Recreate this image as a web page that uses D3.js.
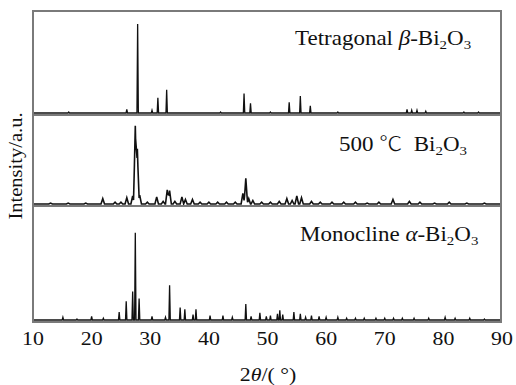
<!DOCTYPE html>
<html>
<head>
<meta charset="utf-8">
<script src="https://cdn.jsdelivr.net/npm/d3@7"></script>
<style>
  body { margin: 0; background: #fff; }
</style>
</head>
<body>
<div id="chart"></div>
<script>
// 2theta ticks
const xTicks = [10, 20, 30, 40, 50, 60, 70, 80, 90];

// peaks as [2theta, relative intensity]
const tetragonalPeaks = [
  [16.1, 1], [26.0, 4], [27.85, 100], [30.3, 3], [31.3, 17], [32.8, 26],
  [42.0, 1], [46.0, 22], [47.1, 11], [50.5, 1], [53.7, 12], [55.6, 19],
  [57.3, 8], [62.0, 1], [73.8, 4], [74.6, 3], [75.5, 3], [77.0, 2], [83.5, 1], [86.0, 1]
];
const sample500Peaks = [
  [13.0, 1], [16.0, 1], [19.0, 1], [21.9, 6], [24.0, 2], [25.0, 2], [26.0, 7], [27.0, 9],
  [27.45, 88], [27.8, 62], [28.2, 10], [29.5, 2], [31.1, 8], [32.2, 3], [32.9, 16], [33.3, 15],
  [34.2, 3], [35.4, 8], [36.0, 5], [37.2, 5], [38.5, 2], [40.0, 2], [41.5, 2], [43.0, 2],
  [44.5, 2], [45.8, 12], [46.3, 29], [46.8, 6], [47.5, 4], [49.0, 2], [50.5, 2], [52.0, 3],
  [53.3, 6], [54.2, 4], [55.0, 9], [55.8, 7], [57.5, 3], [59.0, 2], [61.0, 2], [63.0, 2],
  [65.0, 2], [67.0, 1], [69.0, 2], [71.4, 5], [74.2, 3], [76.0, 2], [78.5, 1], [81.0, 2],
  [84.0, 1], [87.0, 1]
];
const monoclinePeaks = [
  [15.1, 3], [17.5, 1], [20.0, 4], [22.0, 2], [24.7, 9], [25.9, 21], [27.0, 32],
  [27.45, 98], [28.1, 24], [30.3, 4], [32.6, 3], [33.3, 39], [35.1, 14], [35.9, 12],
  [37.3, 6], [37.8, 12], [40.2, 5], [42.4, 5], [44.0, 3], [46.3, 18], [47.2, 4],
  [48.7, 8], [49.8, 4], [50.5, 5], [51.7, 7], [52.1, 11], [52.6, 6], [54.5, 9], [55.6, 7],
  [56.5, 3], [57.5, 5], [58.8, 4], [60.0, 3], [62.0, 3], [63.5, 2], [65.0, 2], [66.5, 2],
  [68.5, 2], [70.0, 2], [71.5, 2], [73.0, 2], [75.0, 2], [77.5, 2], [80.3, 3], [82.0, 2],
  [84.5, 2], [87.0, 1]
];

const panels = [
  { peaks: tetragonalPeaks, base: 113, width: 0.12, sw: 1.3 },
  { peaks: sample500Peaks, base: 204, width: 0.3, sw: 1.6 },
  { peaks: monoclinePeaks, base: 320, width: 0.12, sw: 1.3 }
];

const W = 516, H = 385;
const frame = { left: 33, right: 501, top: 11, bottom: 322 };
const stretch = 1.15; // the source type is a bit wide

const svg = d3.select("#chart").append("svg")
  .attr("width", W).attr("height", H)
  .attr("font-family", "'Liberation Serif', 'DejaVu Serif', 'Times New Roman', serif");

const x = d3.scaleLinear().domain([10, 90]).range([33, 502]);

function profile(peaks, w) {
  const xs = [10, 90];
  peaks.forEach(p => { xs.push(p[0] - w, p[0], p[0] + w); });
  xs.sort((a, b) => a - b);
  return xs.filter(v => v >= 10 && v <= 90).map(v => {
    let m = 0;
    peaks.forEach(p => {
      const t = 1 - Math.abs(v - p[0]) / w;
      if (t > 0) m = Math.max(m, p[1] * t);
    });
    return [v, m];
  });
}

panels.forEach(p => {
  const y = d3.scaleLinear().domain([0, 100]).range([p.base, p.base - 89]);
  const line = d3.line().x(d => x(d[0])).y(d => y(d[1]));
  svg.append("path")
    .attr("d", line(profile(p.peaks, p.width)))
    .attr("fill", "none")
    .attr("stroke", "#111")
    .attr("stroke-width", p.sw);
});

// frame and panel separators
svg.append("rect")
  .attr("x", frame.left).attr("y", frame.top)
  .attr("width", frame.right - frame.left).attr("height", frame.bottom - frame.top)
  .attr("fill", "none").attr("stroke", "#7a7a7a").attr("stroke-width", 2);
[115, 206].forEach(v => {
  svg.append("line")
    .attr("x1", frame.left).attr("x2", frame.right).attr("y1", v).attr("y2", v)
    .attr("stroke", "#7a7a7a").attr("stroke-width", 2);
});

// x tick labels
svg.append("g").selectAll("text")
  .data(xTicks)
  .join("text")
  .attr("transform", d => `translate(${x(d)},345) scale(${stretch},1)`)
  .attr("text-anchor", "middle")
  .attr("font-size", 19)
  .attr("fill", "#111")
  .text(d => d);

// axis titles
const xt = svg.append("text")
  .attr("transform", `translate(268,381) scale(${stretch},1)`)
  .attr("text-anchor", "middle")
  .attr("font-size", 19)
  .attr("fill", "#111");
xt.append("tspan").text("2");
xt.append("tspan").attr("font-style", "italic").text("θ");
xt.append("tspan").text("/(\u00a0°)");

svg.append("text")
  .attr("transform", "translate(22,166) rotate(-90) scale(1.08,1)")
  .attr("text-anchor", "middle")
  .attr("font-size", 19)
  .attr("fill", "#111")
  .text("Intensity/a.u.");

// panel labels
function label(xp, yp, parts) {
  const t = svg.append("text")
    .attr("transform", `translate(${xp},${yp}) scale(${stretch},1)`)
    .attr("font-size", 20).attr("fill", "#111");
  parts.forEach(q => {
    const s = t.append("tspan").text(q.t);
    if (q.i) s.attr("font-style", "italic");
    if (q.sub) s.attr("font-size", 13).attr("dy", 4);
    if (q.up) s.attr("dy", -4);
    if (q.cjk) s.attr("font-family", "'Noto Sans CJK SC'").attr("font-weight", 300);
  });
}
label(295, 45, [{ t: "Tetragonal " }, { t: "β", i: true }, { t: "-Bi" }, { t: "2", sub: true }, { t: "O", up: true }, { t: "3", sub: true }]);
label(339, 151, [{ t: "500 " }, { t: "℃", cjk: true }, { t: "\u00a0\u00a0Bi" }, { t: "2", sub: true }, { t: "O", up: true }, { t: "3", sub: true }]);
label(300, 241, [{ t: "Monocline " }, { t: "α", i: true }, { t: "-Bi" }, { t: "2", sub: true }, { t: "O", up: true }, { t: "3", sub: true }]);
</script>
</body>
</html>
